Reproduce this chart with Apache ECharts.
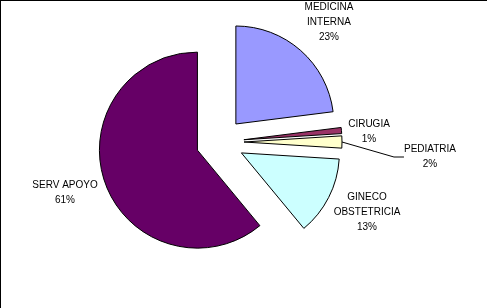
<!DOCTYPE html>
<html>
<head>
<meta charset="utf-8">
<script src="https://cdn.jsdelivr.net/npm/echarts@6/dist/echarts.min.js"></script>
<style>
html,body{margin:0;padding:0;background:#fff;}
#chart{width:487px;height:308px;}
</style>
</head>
<body>
<div id="chart"></div>
<script>
// Data
var categories = ['MEDICINA\nINTERNA', 'CIRUGIA', 'PEDIATRIA', 'GINECO\nOBSTETRICIA', 'SERV APOYO'];
var values = [23, 1, 2, 13, 61];

// Styles / layout (not data)
var colors = ['#9999FF', '#993366', '#FFFFCC', '#CCFFFF', '#660066'];
var labelPos = [[329, 22.5], [369, 132], [430, 157], [367, 212], [65, 192.5]];
var showLine = [false, false, true, false, false];

var chart = echarts.init(document.getElementById('chart'), null, {renderer: 'canvas'});

var sliceData = categories.map(function (c, i) {
  return {name: c, value: values[i], selected: true, itemStyle: {color: colors[i]}};
});
var labelData = categories.map(function (c, i) {
  return {
    name: c,
    value: values[i],
    labelLine: {show: showLine[i], lineStyle: {color: '#000', width: 1}}
  };
});

chart.setOption({
  animation: false,
  backgroundColor: '#fff',
  graphic: [
    {type: 'line', shape: {x1: 0, y1: 0.5, x2: 487, y2: 0.5}, style: {stroke: '#000', lineWidth: 1}},
    {type: 'line', shape: {x1: 0.5, y1: 0, x2: 0.5, y2: 308}, style: {stroke: '#000', lineWidth: 1}}
  ],
  series: [{
    type: 'pie',
    center: [220, 142],
    radius: [0, 98],
    startAngle: 90,
    clockwise: true,
    selectedMode: 'multiple',
    selectedOffset: 24,
    silent: true,
    itemStyle: {borderColor: '#000', borderWidth: 1},
    emphasis: {disabled: true},
    label: {show: false},
    labelLine: {show: false},
    data: sliceData
  }, {
    type: 'pie',
    center: [220, 142],
    radius: [0, 122],
    startAngle: 90,
    clockwise: true,
    silent: true,
    avoidLabelOverlap: false,
    itemStyle: {color: 'rgba(0,0,0,0)', borderWidth: 0},
    emphasis: {disabled: true},
    label: {
      show: true,
      position: 'outside',
      formatter: '{b}\n{c}%',
      fontFamily: 'Liberation Sans, Arial, sans-serif',
      fontSize: 10,
      lineHeight: 15,
      color: '#000'
    },
    labelLine: {show: false, length: 10, length2: 10},
    labelLayout: function (p) {
      var pos = labelPos[p.dataIndex];
      return {x: pos[0], y: pos[1], align: 'center', verticalAlign: 'middle'};
    },
    data: labelData
  }]
});
</script>
</body>
</html>
